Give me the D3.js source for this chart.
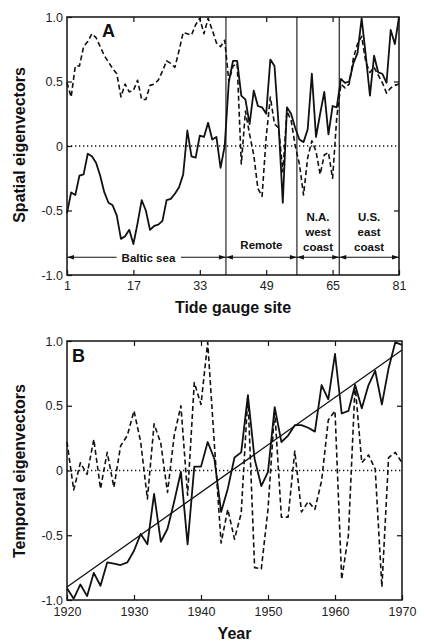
<!DOCTYPE html>
<html><head><meta charset="utf-8">
<script src="https://cdn.jsdelivr.net/npm/d3@7"></script>
<style>body{margin:0;background:#fff} svg{display:block}</style>
</head><body>
<svg id="c" width="424" height="644"></svg>
<script>
// ---------- data ----------
const sites = d3.range(1, 82);
const spatialSolid = [-0.52,-0.36,-0.38,-0.23,-0.22,-0.06,-0.08,-0.13,-0.23,-0.36,
  -0.44,-0.46,-0.54,-0.72,-0.70,-0.65,-0.76,-0.60,-0.42,-0.50,
  -0.65,-0.62,-0.61,-0.58,-0.42,-0.41,-0.37,-0.32,-0.22,0.12,
  -0.08,-0.09,0.08,0.07,0.18,0.05,0.07,-0.17,0.00,0.50,
  0.66,0.66,0.39,0.36,0.17,0.43,0.31,0.30,0.25,0.67,
  0.62,0.16,-0.44,0.30,0.25,0.14,0.05,0.03,0.13,0.56,
  0.07,0.25,0.42,0.09,0.31,0.30,0.52,0.49,0.50,0.64,
  0.72,0.99,0.70,0.39,0.70,0.57,0.56,0.49,0.90,0.79,1.00];
const spatialDashed = [0.49,0.38,0.62,0.62,0.77,0.81,0.87,0.84,0.77,0.70,
  0.65,0.60,0.56,0.38,0.48,0.42,0.43,0.51,0.36,0.36,
  0.47,0.48,0.51,0.58,0.66,0.64,0.61,0.74,0.88,0.87,
  0.86,0.94,0.99,0.87,0.99,0.90,0.80,0.77,0.82,0.50,
  0.62,0.64,-0.14,0.27,0.09,-0.07,-0.33,-0.39,0.07,0.38,
  0.17,0.14,-0.20,0.27,0.20,0.00,-0.14,-0.38,-0.09,0.04,
  -0.04,-0.22,-0.07,-0.05,-0.25,0.22,0.48,0.45,0.48,0.68,
  0.79,0.85,0.65,0.57,0.61,0.55,0.49,0.41,0.45,0.47,0.48];
const years = d3.range(1920, 1971);
const temporalSolid = [-0.91,-0.99,-0.88,-0.97,-0.79,-0.89,-0.71,-0.72,-0.73,-0.71,
  -0.62,-0.49,-0.57,-0.18,-0.55,-0.45,-0.24,-0.01,-0.57,0.03,
  0.03,0.22,0.09,-0.32,-0.14,0.10,0.14,0.58,0.09,-0.12,
  -0.01,0.49,0.22,0.27,0.35,0.35,0.33,0.30,0.66,0.55,
  0.90,0.44,0.46,0.66,0.48,0.66,0.77,0.51,0.79,0.99,0.97];
const temporalDashed = [0.22,-0.15,0.06,-0.03,0.24,-0.14,0.14,-0.13,0.19,0.27,
  0.46,0.22,-0.22,0.36,0.21,-0.17,0.27,0.50,-0.19,0.68,
  0.51,0.99,0.20,-0.56,-0.30,-0.53,-0.33,0.58,-0.75,-0.76,
  -0.30,0.47,-0.36,-0.36,0.15,-0.32,-0.24,-0.30,-0.08,0.39,
  0.46,-0.84,-0.50,0.66,0.06,0.12,0.01,-0.90,0.10,0.14,0.06];
const trendYears = [1920, 1970];
const trendValues = [-0.90, 0.93];
const yTicks = [-1, -0.5, 0, 0.5, 1];
const yTickLabels = ["-1.0", "-0.5", "0", "0.5", "1.0"];
const siteTicks = [1, 17, 33, 49, 65, 81];
const yearTicks = [1920, 1930, 1940, 1950, 1960, 1970];
const regionNames = [["Baltic sea"], ["Remote"], ["N.A.", "west", "coast"], ["U.S.", "east", "coast"]];
const regionBounds = [1, 39.3, 56.4, 66.6, 81];

// ---------- drawing ----------
const svg = d3.select("#c");
const FONT = "'Liberation Sans', Arial, Helvetica, sans-serif";

function panel(cfg) {
  const {x, y, xTicks, xFmt, topTicks, label, labelPos, xTitle, xTitleY, yTitle, yTitleY, bottomPad} = cfg;
  const g = svg.append("g");
  const [x0, x1] = x.range(), [y0, y1] = y.range();
  g.append("line").attr("x1", x0).attr("x2", x1).attr("y1", y(0)).attr("y2", y(0))
    .attr("stroke", "#111").attr("stroke-width", 1.3).attr("stroke-dasharray", "1.3,2.7");
  const yLab = d3.scaleOrdinal().domain(yTicks).range(yTickLabels);
  const left = g.append("g").attr("transform", `translate(${x0},0)`)
    .call(d3.axisLeft(y).tickValues(yTicks).tickSize(-5).tickSizeOuter(0).tickPadding(4).tickFormat(d => yLab(d)));
  const right = g.append("g").attr("transform", `translate(${x1},0)`)
    .call(d3.axisRight(y).tickValues([-0.5, 0.5]).tickSize(-5).tickSizeOuter(0).tickFormat(""));
  const bottom = g.append("g").attr("transform", `translate(0,${y0})`)
    .call(d3.axisBottom(x).tickValues(xTicks).tickSize(-5).tickSizeOuter(0).tickPadding(bottomPad).tickFormat(xFmt));
  const top = g.append("g").attr("transform", `translate(0,${y1})`)
    .call(d3.axisTop(x).tickValues(topTicks).tickSize(-5).tickSizeOuter(0).tickFormat(""));
  [left, right, bottom, top].forEach(a => {
    a.select(".domain").remove();
    a.selectAll("line").attr("stroke", "#111").attr("stroke-width", 1.2);
    a.selectAll("text").attr("font-family", FONT).attr("font-size", 12.5).attr("fill", "#222");
  });
  g.append("rect").attr("x", x0).attr("y", y1).attr("width", x1 - x0).attr("height", y0 - y1)
    .attr("fill", "none").attr("stroke", "#111").attr("stroke-width", 1.5);
  g.append("text").attr("x", labelPos[0]).attr("y", labelPos[1]).text(label)
    .attr("font-family", FONT).attr("font-weight", "bold").attr("font-size", 18).attr("fill", "#111");
  g.append("text").attr("x", (x0 + x1) / 2).attr("y", xTitleY).attr("text-anchor", "middle")
    .attr("font-family", FONT).attr("font-weight", "bold").attr("font-size", 16).attr("fill", "#111").text(xTitle);
  g.append("text").attr("transform", `translate(25,${yTitleY}) rotate(-90)`).attr("text-anchor", "middle")
    .attr("font-family", FONT).attr("font-weight", "bold").attr("font-size", 16).attr("fill", "#111").text(yTitle);
  return g;
}

function series(g, xs, ys, x, y, dashed, w) {
  const line = d3.line().x((d, i) => x(xs[i])).y(d => y(d));
  g.append("path").datum(ys).attr("d", line).attr("fill", "none").attr("stroke", "#111")
    .attr("stroke-width", w).attr("stroke-linejoin", "round")
    .attr("stroke-dasharray", dashed ? "5,3" : null);
}

// ----- Panel A -----
const xA = d3.scaleLinear().domain([1, 81]).range([67, 399]);
const yA = d3.scaleLinear().domain([-1, 1]).range([275, 17]);
const gA = panel({x: xA, y: yA, xTicks: siteTicks, xFmt: d3.format("d"), topTicks: [17, 33, 49, 65],
  label: "A", labelPos: [102, 37], xTitle: "Tide gauge site", xTitleY: 313,
  yTitle: "Spatial eigenvectors", yTitleY: 145, bottomPad: 6});

gA.selectAll(".bound").data(regionBounds.slice(1, -1)).enter().append("line")
  .attr("x1", d => xA(d)).attr("x2", d => xA(d)).attr("y1", yA(1)).attr("y2", yA(-1))
  .attr("stroke", "#111").attr("stroke-width", 1.1);

series(gA, sites, spatialDashed, xA, yA, true, 1.6);
series(gA, sites, spatialSolid, xA, yA, false, 1.8);

const arrowY = 257.3;
regionNames.forEach((names, i) => {
  const xs = xA(regionBounds[i]), xe = xA(regionBounds[i + 1]);
  const cx = (xs + xe) / 2;
  gA.append("line").attr("x1", xs).attr("x2", xe).attr("y1", arrowY).attr("y2", arrowY)
    .attr("stroke", "#111").attr("stroke-width", 1.1);
  const L = 7, H = 2.3;
  gA.append("path").attr("d", `M${xs},${arrowY}L${xs + L},${arrowY - H}L${xs + L},${arrowY + H}Z`).attr("fill", "#111");
  gA.append("path").attr("d", `M${xe},${arrowY}L${xe - L},${arrowY - H}L${xe - L},${arrowY + H}Z`).attr("fill", "#111");
  if (names.length === 1 && i === 0) {
    const t = gA.append("text").attr("x", cx + 2).attr("y", arrowY + 4.3).attr("text-anchor", "middle")
      .attr("font-family", FONT).attr("font-weight", "bold").attr("font-size", 11.5).attr("fill", "#111").text(names[0]);
    const bb = t.node().getBBox();
    gA.insert("rect", () => t.node()).attr("x", bb.x - 5).attr("y", arrowY - 3).attr("width", bb.width + 10).attr("height", 6).attr("fill", "#fff");
  } else {
    const lastY = names.length === 1 ? 248.5 : 250.5;
    names.forEach((n, k) => {
      gA.append("text").attr("x", cx).attr("y", lastY - (names.length - 1 - k) * 15).attr("text-anchor", "middle")
        .attr("font-family", FONT).attr("font-weight", "bold").attr("font-size", 11.5).attr("fill", "#111").text(n);
    });
  }
});

// ----- Panel B -----
const xB = d3.scaleLinear().domain([1920, 1970]).range([67, 402]);
const yB = d3.scaleLinear().domain([-1, 1]).range([600, 341]);
const gB = panel({x: xB, y: yB, xTicks: yearTicks, xFmt: d3.format("d"), topTicks: [1930, 1940, 1950, 1960],
  label: "B", labelPos: [72, 362], xTitle: "Year", xTitleY: 639,
  yTitle: "Temporal eigenvectors", yTitleY: 471, bottomPad: 7});

series(gB, years, temporalDashed, xB, yB, true, 1.6);
series(gB, years, temporalSolid, xB, yB, false, 1.8);
series(gB, trendYears, trendValues, xB, yB, false, 1.3);
</script></body></html>
